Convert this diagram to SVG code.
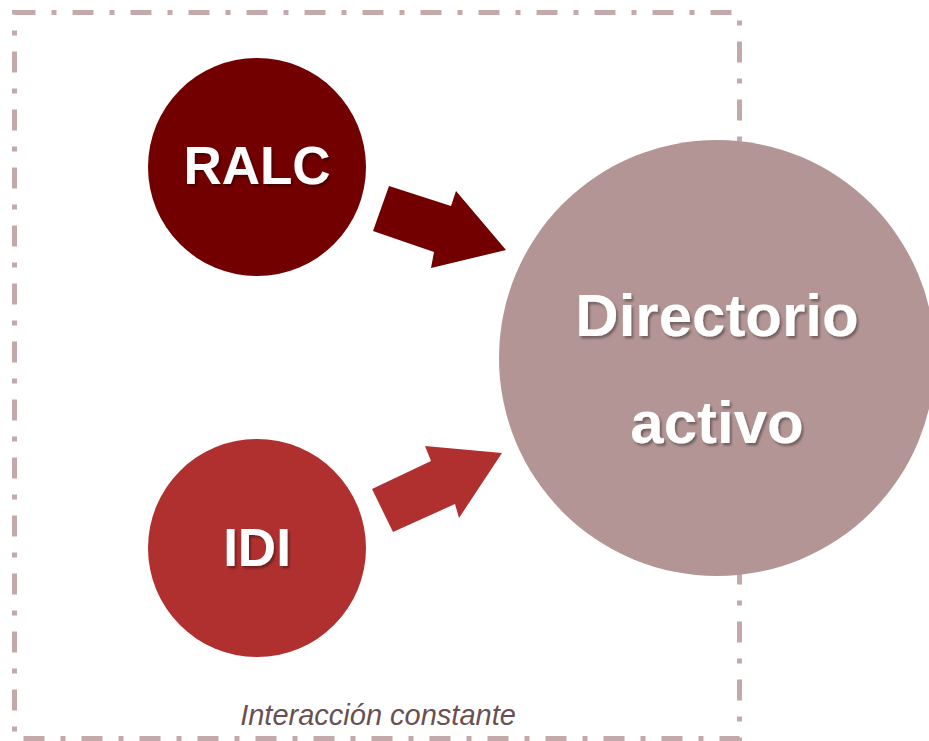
<svg xmlns="http://www.w3.org/2000/svg" width="929" height="741" viewBox="0 0 929 741">
<defs>
<filter id="sh" x="-10%" y="-10%" width="130%" height="140%">
<feDropShadow dx="2" dy="2.5" stdDeviation="1.2" flood-color="#000" flood-opacity="0.35"/>
</filter>
</defs>
<style>
.lbl{font-family:"Liberation Sans",Arial,sans-serif;font-weight:bold;fill:#fff;text-anchor:middle;filter:url(#sh)}
.frame{fill:none;stroke:#c4a9aa;stroke-width:5;stroke-dasharray:21 16 5 16}
.cap{font-family:"Liberation Sans",Arial,sans-serif;font-style:italic;font-size:29px;fill:#6b5052;text-anchor:middle}
</style>
<g id="frame">
<rect class="frame" x="14.5" y="12.5" width="725" height="726"/>
<text class="cap" x="378" y="725">Interacción constante</text>
</g>
<g id="connectors">
<polygon fill="#730000" points="389,186 451,206 456,191 506,250 431,268 434,252 373,231"/>
<polygon fill="#b03030" points="372,489 431,461 425,446 502,453 459,518 455,504 393,532"/>
</g>
<g id="ralc">
<circle cx="257" cy="167" r="109" fill="#730000"/>
<text class="lbl" x="257" y="184" font-size="53">RALC</text>
</g>
<g id="idi">
<circle cx="257" cy="548" r="109" fill="#b03030"/>
<text class="lbl" x="257" y="566" font-size="53">IDI</text>
</g>
<g id="directorio">
<circle cx="717" cy="358" r="218" fill="#b39595"/>
<text class="lbl" x="717" y="336" font-size="60">Directorio</text>
<text class="lbl" x="717" y="443" font-size="60">activo</text>
</g>
</svg>
